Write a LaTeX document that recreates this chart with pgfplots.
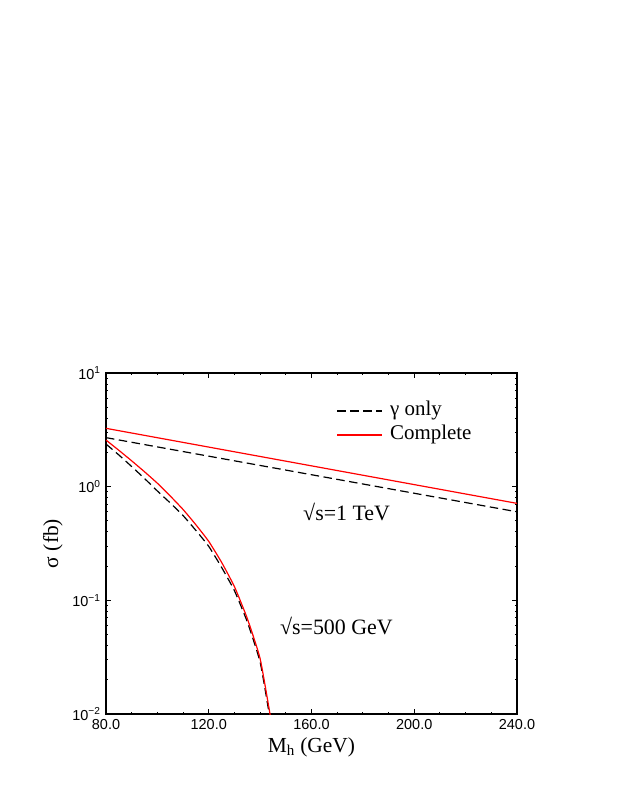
\documentclass[border=0pt]{standalone}
\usepackage{fontspec}
\setmainfont{Liberation Serif}
\newfontfamily\ticksans{Liberation Sans}
\usepackage{pgfplots}
\pgfplotsset{compat=1.18}
\begin{document}
\begin{tikzpicture}
\path (-106bp,-92bp) rectangle (517bp,714bp);
\begin{axis}[
  scale only axis,
  width=411bp, height=341bp,
  at={(0,0)}, anchor=south west,
  ymode=log,
  xmin=80, xmax=240, ymin=0.01, ymax=10,
  xtick={80,120,160,200,240},
  xticklabels={80.0,120.0,160.0,200.0,240.0},
  minor x tick num=3,
  ytick={0.01,0.1,1,10},
  yticklabels={10\textsuperscript{−2},10\textsuperscript{−1},10\textsuperscript{0},10\textsuperscript{1}},
  major tick length=5bp, minor tick length=2.5bp,
  every tick/.style={black, line width=1bp},
  axis line style={line width=1.2bp},
  ticklabel style={font=\fontsize{14.5}{16}\selectfont\ticksans},
  xticklabel style={yshift=-2bp},
  yticklabel style={xshift=-2bp},
  xlabel={M\textsubscript{h} (GeV)},
  ylabel={σ (fb)},
  label style={font=\fontsize{21.5}{24}\selectfont},
  xlabel style={at={(axis description cs:0.5,-0.1135)}, anchor=base},
  ylabel style={at={(axis description cs:-0.129,0.5)}, anchor=center},
  legend style={draw=none, fill=none, at={(rel axis cs:0.553,0.93)}, anchor=north west,
    font=\fontsize{21}{24}\selectfont, row sep=0bp,
    nodes={text height=14bp, text depth=5bp, inner sep=2.5bp},
    /tikz/every odd column/.append style={column sep=5bp}},
  legend cell align=left,
  legend image code/.code={\draw[#1] (0bp,0bp) -- (45bp,0bp);},
]
\addplot[black, line width=1.2bp, dash pattern=on 8.5bp off 4.5bp] coordinates {(80,2.70) (240,0.601)};
\addlegendentry{γ only}
\addplot[red, line width=1.2bp] coordinates {(80,3.26) (240,0.713)};
\addlegendentry{Complete}
\addplot[black, line width=1.2bp, dash pattern=on 8.5bp off 4.5bp, forget plot, smooth, tension=0.3] coordinates {
(80,2.371) (85,1.901) (90,1.503) (95,1.180) (100,0.916) (105,0.719) (110,0.557)
(115,0.412) (120,0.2985) (125,0.1950) (130,0.1216) (135,0.0647) (140,0.0286)
(143.6,0.00986) (146,0.00486)};
\addplot[red, line width=1.2bp, forget plot, smooth, tension=0.3] coordinates {
(80,2.570) (85,2.089) (90,1.687) (95,1.352) (100,1.072) (105,0.828) (110,0.630)
(115,0.462) (120,0.330) (125,0.216) (130,0.132) (135,0.0693) (140,0.0307)
(143.9,0.00986) (146,0.0054)};
\node[anchor=base west, inner sep=0pt, font=\fontsize{22}{24}\selectfont] at (axis cs:156.7,0.501) {√s=1 TeV};
\node[anchor=base west, inner sep=0pt, font=\fontsize{22}{24}\selectfont] at (axis cs:147.7,0.0496) {√s=500 GeV};
\end{axis}
\end{tikzpicture}
\end{document}
